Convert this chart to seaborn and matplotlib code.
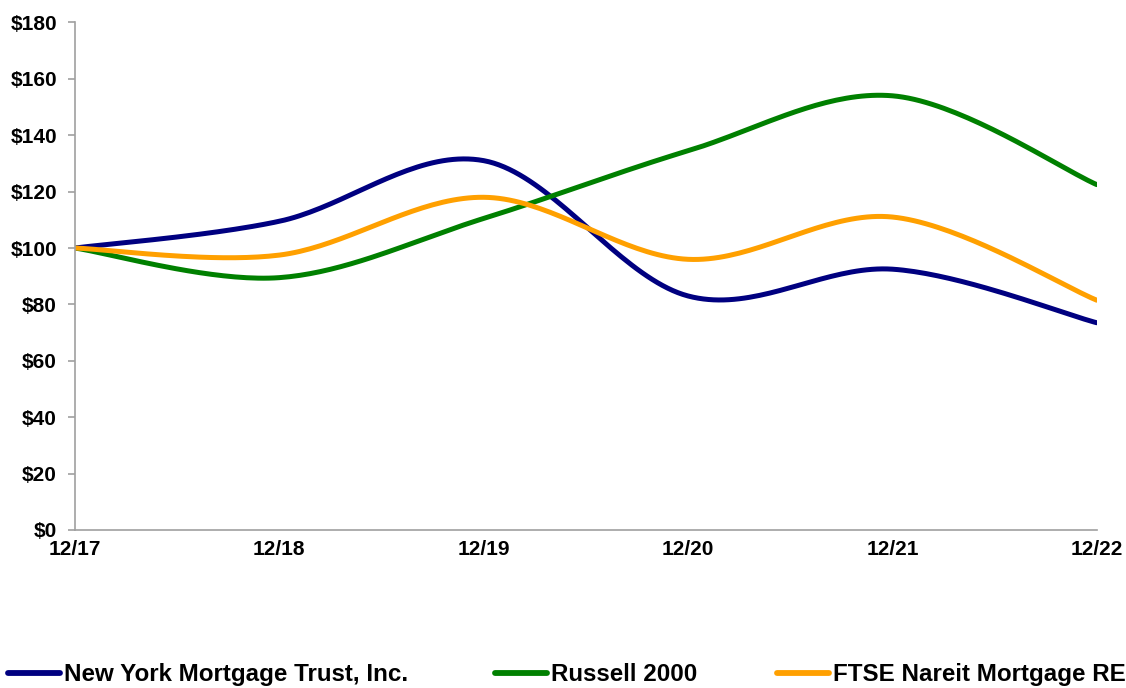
import numpy as np
import pandas as pd
import matplotlib
matplotlib.use("Agg")
import matplotlib.pyplot as plt
import seaborn as sns

# values
periods = ["12/17", "12/18", "12/19", "12/20", "12/21", "12/22"]
nymt = [100, 109.5, 131, 83, 92.5, 73.5]
russell = [100, 89.5, 110.5, 134.5, 154, 122.5]
ftse = [100, 97.5, 118, 96, 111, 81.5]

# the last label is cut at the right edge in the reference
series_names = ["New York Mortgage Trust, Inc.", "Russell 2000", "FTSE Nareit Mortgage RE"]
series_values = [nymt, russell, ftse]
colors = ["#000080", "#008000", "#FFA000"]
yticks = list(range(0, 181, 20))


def smooth(xs, ys, steps=40):
    # Bezier smoothing between the data points (like a spreadsheet "smoothed line")
    p = np.column_stack([xs, ys]).astype(float)
    n = len(p)
    out = []
    for i in range(n - 1):
        p0 = p[max(i - 1, 0)]
        p1 = p[i]
        p2 = p[i + 1]
        p3 = p[min(i + 2, n - 1)]
        c1 = p1 + (p2 - p0) / 6
        c2 = p2 - (p3 - p1) / 6
        t = np.linspace(0, 1, steps, endpoint=(i == n - 2))[:, None]
        seg = ((1 - t) ** 3) * p1 + 3 * ((1 - t) ** 2) * t * c1 + 3 * (1 - t) * t ** 2 * c2 + t ** 3 * p2
        out.append(seg)
    out = np.vstack(out)
    return out[:, 0], out[:, 1]


sns.set_style("white")
plt.rcParams["font.family"] = ["Liberation Sans", "DejaVu Sans"]
plt.rcParams["font.weight"] = "bold"
plt.rcParams["text.color"] = "black"
plt.rcParams["xtick.labelcolor"] = "black"
plt.rcParams["ytick.labelcolor"] = "black"

fig = plt.figure(figsize=(11.26, 6.88), dpi=100)
ax = fig.add_axes([0.0666, 0.2297, 0.9074, 0.7376])

xpos = np.arange(len(periods))
for name, vals, col in zip(series_names, series_values, colors):
    sx, sy = smooth(xpos, vals)
    df = pd.DataFrame({"x": sx, "y": sy})
    sns.lineplot(data=df, x="x", y="y", sort=False, color=col, linewidth=3.6,
                 label=name, ax=ax, legend=False)

ax.set_xlim(0, len(periods) - 1)
ax.set_ylim(0, 180)
ax.set_xticks(xpos)
ax.set_xticklabels(periods)
ax.set_yticks(yticks)
ax.set_yticklabels([f"${v}" for v in yticks])
ax.set_xlabel("")
ax.set_ylabel("")

for s in ["top", "right"]:
    ax.spines[s].set_visible(False)
for s in ["left", "bottom"]:
    ax.spines[s].set_color("#A0A0A0")
    ax.spines[s].set_linewidth(1.2)

ax.tick_params(axis="x", direction="in", length=5, width=1.2, color="#A0A0A0",
               labelsize=15, pad=7, labelcolor="black")
ax.tick_params(axis="y", direction="out", length=5, width=1.2, color="#A0A0A0",
               labelsize=15, pad=8, left=True, labelcolor="black")
for lab in ax.get_xticklabels() + ax.get_yticklabels():
    lab.set_fontweight("bold")

# legend entries spread along the bottom
handles = ax.get_lines()[:3]
legend_x = [0.007, 0.4396, 0.690]
for h, name, lx in zip(handles, series_names, legend_x):
    leg = fig.legend([h], [name], loc="center left", bbox_to_anchor=(lx, 0.019),
                     frameon=False, handlelength=2.15, handletextpad=0.17,
                     borderaxespad=0, borderpad=0,
                     prop={"size": 17.4, "weight": "bold"})
    leg.get_lines()[0].set_linewidth(4.2)
    for t in leg.get_texts():
        t.set_color("black")

fig.savefig("out.png", dpi=100)
